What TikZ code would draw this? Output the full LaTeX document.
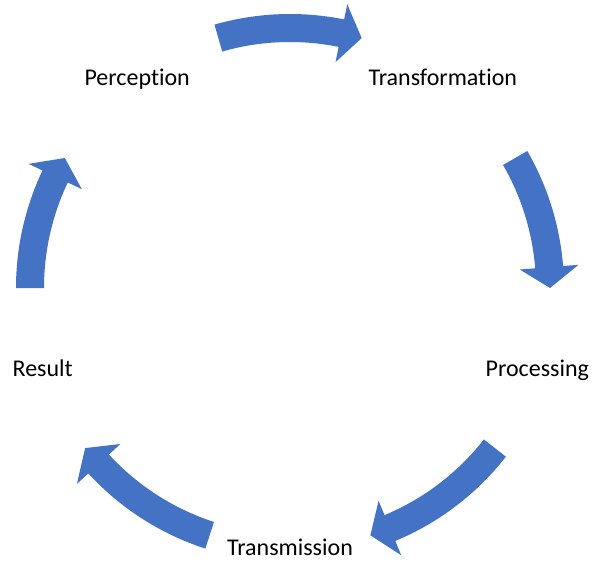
\documentclass[tikz,border=0pt]{standalone}
\usepackage{fontspec}
\setmainfont{Carlito}[Ligatures={NoCommon,NoContextual}]
\usepackage{tikz}
\definecolor{cycleblue}{HTML}{4472C4}

\begin{document}
\begin{tikzpicture}[x=1pt,y=1pt,font=\fontsize{24}{29}\selectfont]
\tikzstyle{stage}=[inner sep=0,text height=15.5pt,text depth=0pt]
\tikzstyle{cycle arrow}=[fill=cycleblue]
\useasboundingbox (-290,-274) rectangle (303,288);
% stages sit on a circle of radius 260
\node[stage](perception) at (126:260){Perception};
\node[stage](transformation) at (54:260){Transformation};
\node[stage](processing) at (-18:260){Processing};
\node[stage](transmission) at (-90:260){Transmission};
\node[stage](result) at (198:260){Result};
% curved block arrows between the stages, clockwise
\foreach \from/\to in {106/74,30/0,-38/-72,-108/-142,180/150}{
\pgfmathsetmacro\barb{\to+4.6}
\fill[cycle arrow] (\from:274) arc[start angle=\from,end angle=\barb,radius=274]
-- (\barb:289.5) -- (\to:260) -- (\barb:230.5) -- (\barb:246)
arc[start angle=\barb,end angle=\from,radius=246] -- cycle;
}
\end{tikzpicture}
\end{document}
